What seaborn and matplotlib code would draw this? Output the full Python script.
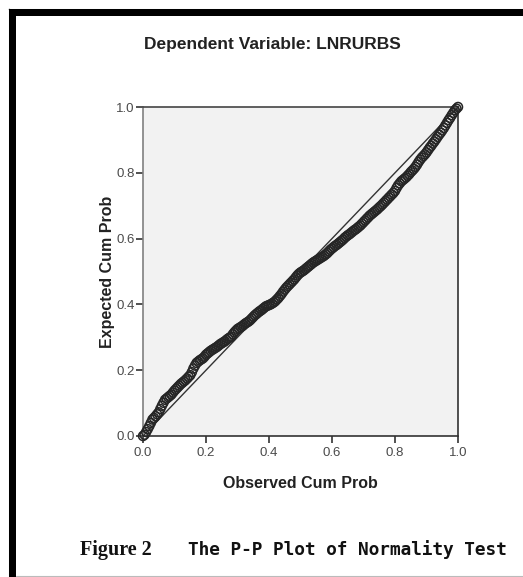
import matplotlib
matplotlib.use("Agg")
import matplotlib.pyplot as plt
from matplotlib.patches import Rectangle
from matplotlib.lines import Line2D
import seaborn as sns
import pandas as pd

# ---- data (P-P plot) ----
observed_cum_prob = [
    0.000, 0.005, 0.010, 0.015, 0.020, 0.025, 0.030, 0.035, 0.040, 0.045,
    0.050, 0.055, 0.060, 0.065, 0.070, 0.075, 0.080, 0.085, 0.090, 0.095,
    0.100, 0.105, 0.110, 0.115, 0.120, 0.125, 0.130, 0.135, 0.140, 0.145,
    0.150, 0.155, 0.160, 0.165, 0.170, 0.175, 0.180, 0.185, 0.190, 0.195,
    0.200, 0.205, 0.210, 0.215, 0.220, 0.225, 0.230, 0.235, 0.240, 0.245,
    0.250, 0.255, 0.260, 0.265, 0.270, 0.275, 0.280, 0.285, 0.290, 0.295,
    0.300, 0.305, 0.310, 0.315, 0.320, 0.325, 0.330, 0.335, 0.340, 0.345,
    0.350, 0.355, 0.360, 0.365, 0.370, 0.375, 0.380, 0.385, 0.390, 0.395,
    0.400, 0.405, 0.410, 0.415, 0.420, 0.425, 0.430, 0.435, 0.440, 0.445,
    0.450, 0.455, 0.460, 0.465, 0.470, 0.475, 0.480, 0.485, 0.490, 0.495,
    0.500, 0.505, 0.510, 0.515, 0.520, 0.525, 0.530, 0.535, 0.540, 0.545,
    0.550, 0.555, 0.560, 0.565, 0.570, 0.575, 0.580, 0.585, 0.590, 0.595,
    0.600, 0.605, 0.610, 0.615, 0.620, 0.625, 0.630, 0.635, 0.640, 0.645,
    0.650, 0.655, 0.660, 0.665, 0.670, 0.675, 0.680, 0.685, 0.690, 0.695,
    0.700, 0.705, 0.710, 0.715, 0.720, 0.725, 0.730, 0.735, 0.740, 0.745,
    0.750, 0.755, 0.760, 0.765, 0.770, 0.775, 0.780, 0.785, 0.790, 0.795,
    0.800, 0.805, 0.810, 0.815, 0.820, 0.825, 0.830, 0.835, 0.840, 0.845,
    0.850, 0.855, 0.860, 0.865, 0.870, 0.875, 0.880, 0.885, 0.890, 0.895,
    0.900, 0.905, 0.910, 0.915, 0.920, 0.925, 0.930, 0.935, 0.940, 0.945,
    0.950, 0.955, 0.960, 0.965, 0.970, 0.975, 0.980, 0.985, 0.990, 0.995,
    1.000,
]
expected_cum_prob = [
    0.000, 0.004, 0.012, 0.021, 0.030, 0.040, 0.050, 0.055, 0.060, 0.066,
    0.072, 0.082, 0.092, 0.101, 0.110, 0.114, 0.118, 0.122, 0.126, 0.132,
    0.138, 0.143, 0.148, 0.153, 0.158, 0.162, 0.166, 0.170, 0.175, 0.180,
    0.185, 0.194, 0.205, 0.214, 0.222, 0.226, 0.230, 0.233, 0.236, 0.241,
    0.247, 0.251, 0.255, 0.259, 0.262, 0.265, 0.268, 0.271, 0.275, 0.279,
    0.282, 0.285, 0.288, 0.292, 0.296, 0.299, 0.302, 0.309, 0.315, 0.320,
    0.325, 0.328, 0.331, 0.334, 0.338, 0.342, 0.345, 0.348, 0.352, 0.357,
    0.362, 0.367, 0.371, 0.375, 0.379, 0.382, 0.386, 0.390, 0.394, 0.396,
    0.398, 0.400, 0.403, 0.406, 0.410, 0.415, 0.420, 0.426, 0.432, 0.439,
    0.445, 0.451, 0.456, 0.461, 0.466, 0.471, 0.476, 0.482, 0.488, 0.493,
    0.497, 0.500, 0.503, 0.507, 0.511, 0.515, 0.519, 0.523, 0.527, 0.530,
    0.533, 0.536, 0.539, 0.542, 0.545, 0.548, 0.552, 0.556, 0.561, 0.566,
    0.570, 0.574, 0.578, 0.581, 0.585, 0.589, 0.593, 0.597, 0.602, 0.606,
    0.610, 0.613, 0.617, 0.621, 0.625, 0.628, 0.632, 0.636, 0.640, 0.645,
    0.650, 0.655, 0.660, 0.665, 0.670, 0.674, 0.678, 0.682, 0.686, 0.690,
    0.695, 0.699, 0.704, 0.709, 0.714, 0.719, 0.724, 0.729, 0.734, 0.739,
    0.745, 0.754, 0.762, 0.768, 0.774, 0.778, 0.782, 0.786, 0.791, 0.796,
    0.802, 0.807, 0.812, 0.818, 0.825, 0.833, 0.840, 0.846, 0.851, 0.856,
    0.862, 0.869, 0.876, 0.882, 0.889, 0.895, 0.902, 0.909, 0.916, 0.922,
    0.929, 0.936, 0.944, 0.952, 0.960, 0.967, 0.975, 0.982, 0.990, 0.995,
    1.000,
]
diag_line = [0.0, 1.0]
tick_values = [0.0, 0.2, 0.4, 0.6, 0.8, 1.0]
tick_labels = ["0.0", "0.2", "0.4", "0.6", "0.8", "1.0"]

title_text = "Dependent Variable: LNRURBS"
xlabel_text = "Observed Cum Prob"
ylabel_text = "Expected Cum Prob"
caption_fig = "Figure 2"
caption_text = "The P-P Plot of Normality Test"

df = pd.DataFrame({"obs": observed_cum_prob, "exp": expected_cum_prob})

sns.set_theme(style="white")
plt.rcParams["font.family"] = ["Liberation Sans", "DejaVu Sans"]

W, H = 523, 577
fig = plt.figure(figsize=(W / 100, H / 100), dpi=100)
fig.patch.set_facecolor("white")

def fx(px):
    return px / W

def fy(py):
    return 1 - py / H

ax = fig.add_axes([fx(143), fy(436), fx(458) - fx(143), fy(107) - fy(436)])
ax.set_facecolor("#f2f2f2")

ax.plot(diag_line, diag_line, color="#333333", lw=1.0, zorder=2)
sns.scatterplot(data=df, x="obs", y="exp", ax=ax, marker="o", s=42,
                facecolors="none", edgecolor="#262626", linewidth=1.1,
                zorder=3, legend=False, clip_on=False)

ax.set_xlim(0, 1)
ax.set_ylim(0, 1)
ax.set_xticks(tick_values)
ax.set_xticklabels(tick_labels)
ax.set_yticks(tick_values)
ax.set_yticklabels(tick_labels)
ax.tick_params(axis="both", direction="out", length=5, width=1.2,
               bottom=True, left=True, top=False, right=False,
               color="#333333", labelcolor="#4a4a4a", labelsize=9.5, pad=1)
ax.tick_params(axis="x", pad=3)

for side, col in [("left", "#808080"), ("bottom", "#333333"),
                  ("top", "#444444"), ("right", "#333333")]:
    ax.spines[side].set_visible(True)
    ax.spines[side].set_color(col)
    ax.spines[side].set_linewidth(1.2)

ax.set_xlabel(xlabel_text, fontsize=11.5, fontweight="bold", color="#222222",
              labelpad=12)
ax.set_ylabel(ylabel_text, fontsize=11.5, fontweight="bold", color="#222222",
              labelpad=1)

fig.text(fx(272), fy(45), title_text, ha="center", va="center",
         fontsize=12.5, fontweight="bold", color="#222222")

fig.text(fx(80), fy(550), caption_fig, ha="left", va="center",
         fontsize=14.5, fontweight="bold", color="#111111",
         family=["Liberation Serif", "DejaVu Serif"])
fig.text(fx(188), fy(550), caption_text, ha="left", va="center",
         fontsize=12.8, fontweight="bold", color="#111111",
         family=["DejaVu Sans Mono"])

# black page border (top and left) with light grey edge lines
fig.patches.append(Rectangle((fx(9), fy(16)), 1 - fx(9), fy(9) - fy(16),
                             transform=fig.transFigure, facecolor="black",
                             edgecolor="none", zorder=10))
fig.patches.append(Rectangle((fx(9), 0), fx(16) - fx(9), fy(9),
                             transform=fig.transFigure, facecolor="black",
                             edgecolor="none", zorder=10))
fig.lines.append(Line2D([fx(8), 1], [fy(8.5), fy(8.5)], transform=fig.transFigure,
                        color="#cccccc", lw=0.8))
fig.lines.append(Line2D([fx(8.5), fx(8.5)], [0, fy(8)], transform=fig.transFigure,
                        color="#cccccc", lw=0.8))
fig.lines.append(Line2D([fx(16), 1], [fy(575.5), fy(575.5)], transform=fig.transFigure,
                        color="#bbbbbb", lw=0.8))

fig.savefig("out.png", dpi=100, facecolor="white")
